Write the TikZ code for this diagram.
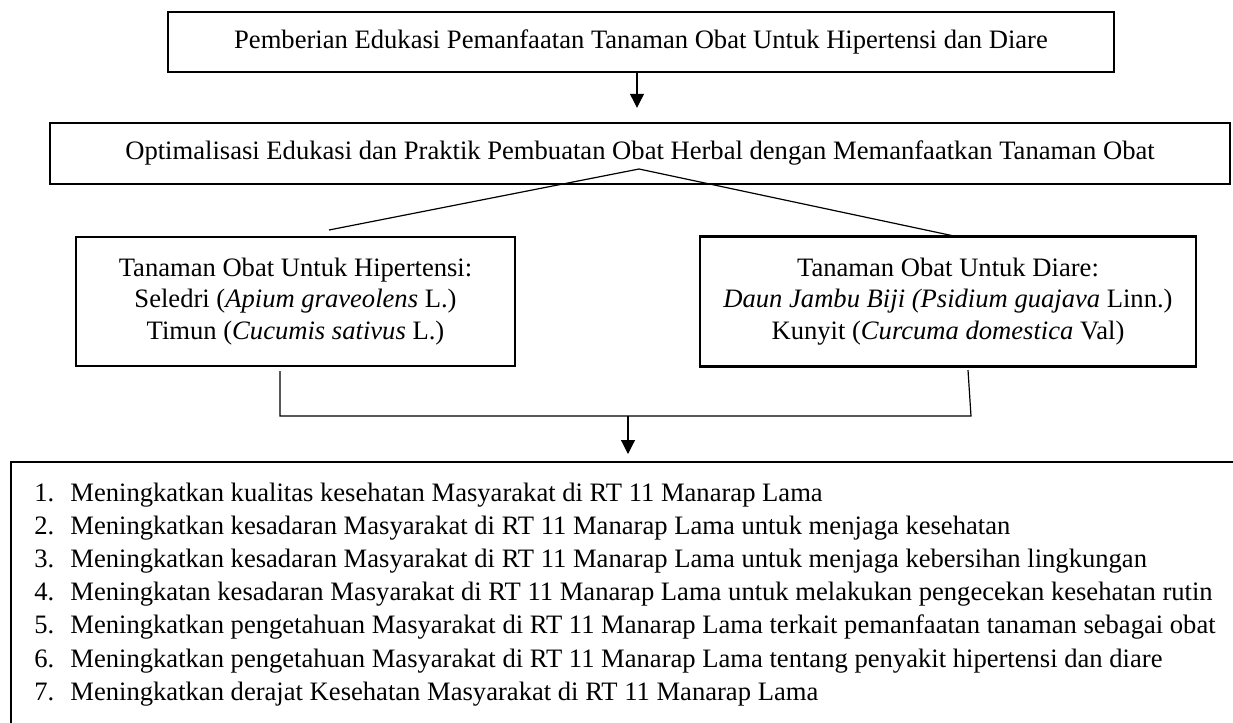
\documentclass[tikz,border=0pt]{standalone}
\usepackage{fontspec}
\setmainfont{Liberation Serif}
\usetikzlibrary{arrows.meta}
\begin{document}
\begin{tikzpicture}[x=0.5pt,y=-0.5pt,
  boxstyle/.style={draw, line width=1.2pt, inner sep=0pt, align=center,
    font=\fontsize{13.3}{15.8}\selectfont},
  conn/.style={line width=0.6pt},
  arr/.style={line width=0.6pt, -{Triangle[length=7pt,width=7pt]}}]
\useasboundingbox (0,0) rectangle (1233,723);
\fill[white] (0,0) rectangle (1233,723);
\clip (0,0) rectangle (1233,723);

\node[boxstyle, minimum width=473pt, minimum height=30pt] (top) at (641,42)
  {Pemberian Edukasi Pemanfaatan Tanaman Obat Untuk Hipertensi dan Diare};
\node[boxstyle, minimum width=590pt, minimum height=30.5pt] (opt) at (640,153.5)
  {Optimalisasi Edukasi dan Praktik Pembuatan Obat Herbal dengan Memanfaatkan Tanaman Obat};
\node[boxstyle, minimum width=219.5pt, minimum height=64.5pt] (hip) at (295.5,301.5)
  {Tanaman Obat Untuk Hipertensi:\\ Seledri (\textit{Apium graveolens} L.)\\ Timun (\textit{Cucumis sativus} L.)};
\node[boxstyle, minimum width=248pt, minimum height=65pt] (dia) at (948,301.5)
  {Tanaman Obat Untuk Diare:\\ \textit{Daun Jambu Biji (Psidium guajava} Linn.)\\ Kunyit (\textit{Curcuma domestica} Val)};
\node[draw, line width=1.2pt, anchor=north west, minimum width=650pt, minimum height=150pt, inner sep=0pt] (outbox) at (10,461) {};
\node[anchor=base west, inner sep=0pt, font=\fontsize{13.3}{16.6}\selectfont] (list) at (34,501)
  {\begin{tabular}[t]{@{}l@{}}
  \makebox[18pt][l]{1.}Meningkatkan kualitas kesehatan Masyarakat di RT 11 Manarap Lama\\
  \makebox[18pt][l]{2.}Meningkatkan kesadaran Masyarakat di RT 11 Manarap Lama untuk menjaga kesehatan\\
  \makebox[18pt][l]{3.}Meningkatkan kesadaran Masyarakat di RT 11 Manarap Lama untuk menjaga kebersihan lingkungan\\
  \makebox[18pt][l]{4.}Meningkatan kesadaran Masyarakat di RT 11 Manarap Lama untuk melakukan pengecekan kesehatan rutin\\
  \makebox[18pt][l]{5.}Meningkatkan pengetahuan Masyarakat di RT 11 Manarap Lama terkait pemanfaatan tanaman sebagai obat\\
  \makebox[18pt][l]{6.}Meningkatkan pengetahuan Masyarakat di RT 11 Manarap Lama tentang penyakit hipertensi dan diare\\
  \makebox[18pt][l]{7.}Meningkatkan derajat Kesehatan Masyarakat di RT 11 Manarap Lama
  \end{tabular}};

\coordinate (apex) at (639,169);
\coordinate (lend) at (329,230);
\coordinate (rend) at (954,236);
\coordinate (lb) at (280,371);
\coordinate (lc) at (280,416);
\coordinate (rc) at (971,416);
\coordinate (rb) at (968,370);
\coordinate (mid) at (628,416);

\draw[arr, shorten >=7pt] ([xshift=-2pt]top.south) -- ([xshift=-2pt]top.south |- opt.north);
\draw[conn] (lend) -- (apex) -- (rend);
\draw[conn] (lb) -- (lc) -- (rc) -- (rb);
\draw[arr, shorten >=3.5pt] (mid) -- (mid |- outbox.north);
\end{tikzpicture}
\end{document}
